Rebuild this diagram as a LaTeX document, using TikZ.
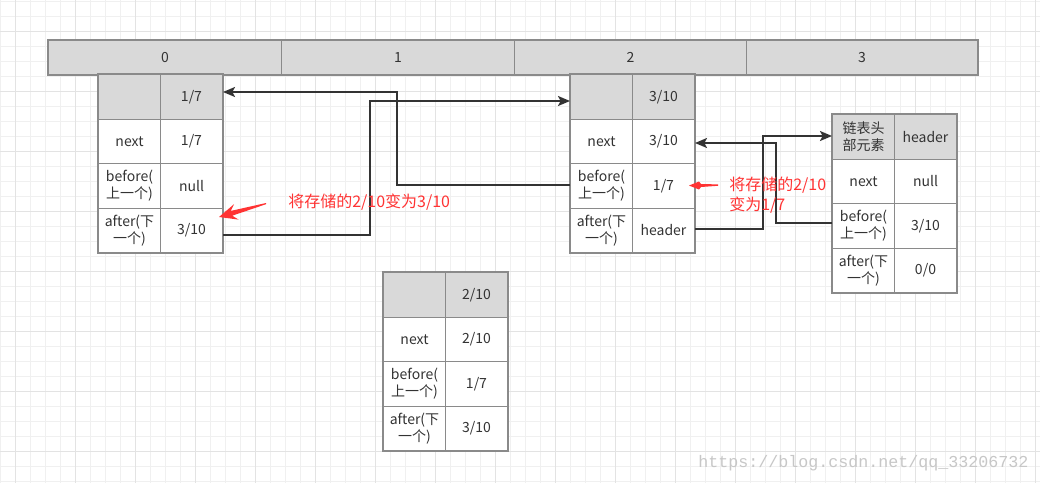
\documentclass[tikz,border=0pt]{standalone}
\usepackage{fontspec}
\setmainfont{Noto Sans CJK SC}
\newfontfamily\wmfont{Liberation Mono}
\usetikzlibrary{arrows.meta}
\definecolor{hdr}{HTML}{D9D9D9}
\definecolor{bord}{HTML}{8A8A8A}
\definecolor{ink}{HTML}{333333}
\definecolor{linec}{HTML}{333333}
\definecolor{note}{HTML}{FF3333}
\definecolor{gminor}{HTML}{F0F0F0}
\definecolor{gmajor}{HTML}{E3E3E3}
\tikzset{
  cell/.style={draw=bord, line width=0.75pt, inner sep=0pt, align=center, text=ink,
    font=\fontsize{10.5}{12.75}\selectfont, anchor=north west},
  outer/.style={draw=bord, line width=1.5pt},
  conn/.style={draw=linec, line width=1.5pt, line join=miter,
    -{Stealth[length=9pt,width=7.5pt,inset=2pt]}},
  notetext/.style={text=note, inner sep=0pt, font=\fontsize{12}{15}\selectfont},
  redarrow/.style={fill=note, draw=none}
}
% table: #1 prefix, #2 x, #3 y, #4 header left, #5 header right, #6 next, #7 before, #8 after
\newcommand\ttable[8]{%
  \node[cell, fill=hdr, minimum width=62*0.75pt, minimum height=45*0.75pt] (#100) at (#2,#3) {#4};
  \node[cell, fill=hdr, minimum width=62*0.75pt, minimum height=45*0.75pt] (#101) at (#2+62,#3) {#5};
  \node[cell, fill=white, minimum width=62*0.75pt, minimum height=44*0.75pt] (#110) at (#2,#3+45) {next};
  \node[cell, fill=white, minimum width=62*0.75pt, minimum height=44*0.75pt] (#111) at (#2+62,#3+45) {#6};
  \node[cell, fill=white, minimum width=62*0.75pt, minimum height=45*0.75pt] (#120) at (#2,#3+89) {before(\\上一个)};
  \node[cell, fill=white, minimum width=62*0.75pt, minimum height=45*0.75pt] (#121) at (#2+62,#3+89) {#7};
  \node[cell, fill=white, minimum width=62*0.75pt, minimum height=44*0.75pt] (#130) at (#2,#3+134) {after(下\\一个)};
  \node[cell, fill=white, minimum width=62*0.75pt, minimum height=44*0.75pt] (#131) at (#2+62,#3+134) {#8};
  \draw[outer] (#100.north west) rectangle (#131.south east);
}
\begin{document}
\begin{tikzpicture}[x=0.75pt, y=-0.75pt]
\useasboundingbox (0,0) rectangle (1040,483);
\fill[white] (0,0) rectangle (1040,483);
% grid
\foreach \i in {0,15,...,1035} \draw[gminor, line width=0.75pt] (\i,0) -- (\i,483);
\foreach \j in {1,16,...,481} \draw[gminor, line width=0.75pt] (0,\j) -- (1040,\j);
\foreach \i in {15,75,...,1035} \draw[gmajor, line width=0.75pt] (\i,0) -- (\i,483);
\foreach \j in {31,91,...,451} \draw[gmajor, line width=0.75pt] (0,\j) -- (1040,\j);

% array bar
\node[cell, fill=hdr, minimum width=233*0.75pt, minimum height=34*0.75pt] (arr0) at (48,40) {0};
\node[cell, fill=hdr, minimum width=233*0.75pt, minimum height=34*0.75pt] (arr1) at (281,40) {1};
\node[cell, fill=hdr, minimum width=232*0.75pt, minimum height=34*0.75pt] (arr2) at (514,40) {2};
\node[cell, fill=hdr, minimum width=231*0.75pt, minimum height=34*0.75pt] (arr3) at (746,40) {3};
\draw[outer] (arr0.north west) rectangle (arr3.south east);

% tables
\ttable{A}{98}{74}{}{1/7}{1/7}{null}{3/10}
\ttable{B}{570}{74}{}{3/10}{3/10}{1/7}{header}
\ttable{C}{832}{114}{链表头\\部元素}{header}{null}{3/10}{0/0}
\ttable{D}{383}{272}{}{2/10}{2/10}{1/7}{3/10}

% connectors
\coordinate (k1) at (397,92);
\coordinate (k2) at (370,101);
\coordinate (k3) at (763,136);
\coordinate (k4) at (776,143);
\draw[conn] ([yshift=1pt]B20.west) -| (k1) -- (A01.east |- k1);
\draw[conn] ([yshift=-3pt]A31.east) -| (k2) -- (B00.west |- k2);
\draw[conn] ([yshift=1.5pt]B31.east) -| (k3) -- (C00.west |- k3);
\draw[conn] ([yshift=2.25pt]C20.west) -| (k4) -- (B11.east |- k4);

% red notes
\fill[redarrow] (266,203) -- (230.8,210.9) -- (234.0,204.2) -- (219,217) -- (238.6,219.6) -- (232.2,215.7) -- (266,204.2) -- cycle;
\node[notetext, anchor=west] (n1) at (288,202) {将存储的2/10变为3/10};
\fill[redarrow] (718,184.4) -- (701,184.0) -- (699,181.5) -- (689,185.5) -- (699,189.5) -- (701,187.0) -- (718,185.8) -- cycle;
\node[notetext, anchor=west, align=left] (n2) at (729,195) {将存储的2/10\\变为1/7};

% watermark
\node[anchor=west, inner sep=0pt, text=black!22, font=\wmfont\fontsize{12.5}{15}\selectfont] (wm) at (698,463) {https://blog.csdn.net/qq\_33206732};
\end{tikzpicture}
\end{document}
